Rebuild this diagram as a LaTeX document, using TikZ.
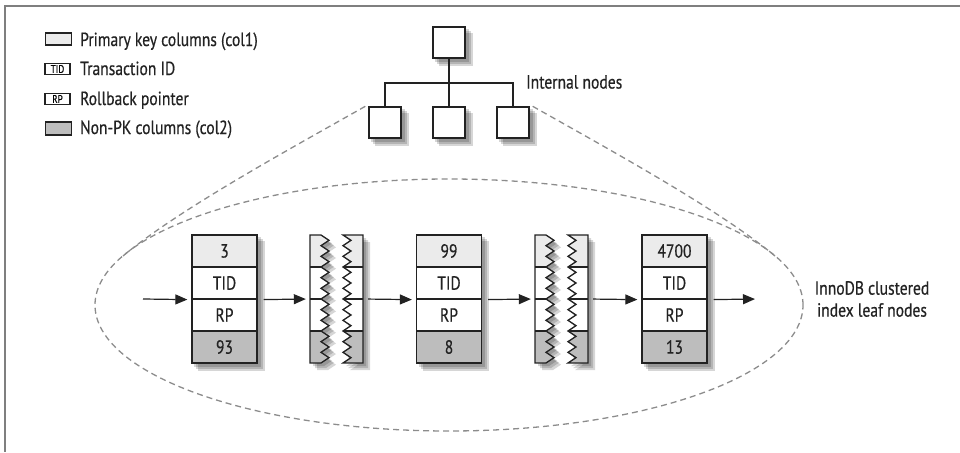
\documentclass[tikz,border=0pt]{standalone}
\usepackage{fontspec}
\setmainfont{PT Sans}[FakeStretch=0.82, FakeBold=0.5]
\usetikzlibrary{arrows.meta,calc}
\pgfdeclarelayer{background}
\pgfsetlayers{background,main}
\definecolor{pk}{HTML}{EBEBEB}
\definecolor{npk}{HTML}{BDBDBD}
\definecolor{framecol}{HTML}{7F7F7F}
\definecolor{dashcol}{HTML}{8C8C8C}
\definecolor{ink}{HTML}{222222}
\tikzset{
  txt/.style={font=\fontsize{19}{22}\selectfont, text=ink},
  cell/.style={draw=ink, line width=1.3pt, minimum width=65pt, minimum height=32pt, inner sep=0pt, txt},
  pkcell/.style={cell, fill=pk},
  npkcell/.style={cell, fill=npk},
  plaincell/.style={cell, fill=white},
  treebox/.style={draw=ink, line width=1.4pt, fill=white, minimum width=32pt, minimum height=31pt, inner sep=0pt},
  legbox/.style={draw=ink, line width=1.1pt, minimum width=26pt, minimum height=12pt, inner sep=0pt},
  smallbox/.style={draw=ink, line width=1.1pt, fill=white, minimum width=25pt, minimum height=11pt, inner sep=0pt, font=\fontsize{11}{11}\selectfont},
  legtext/.style={anchor=base west, inner sep=0pt, txt},
  arr/.style={-{Triangle[length=12pt,width=10pt]}, line width=1.2pt, draw=ink, shorten >=4pt},
  dashline/.style={draw=dashcol, line width=1.3pt, dash pattern=on 6pt off 4pt},
  shade/.style={fill=black, opacity=0.16},
  zigline/.style={draw=ink, line width=1.3pt, line join=miter}
}
\begin{document}
\begin{tikzpicture}[x=1pt, y=-1pt]
\useasboundingbox (0,0) rectangle (960,452);
% frame
\draw[framecol, line width=2pt] (960,6) -- (5,6) -- (5,452);

% legend
\node[legbox, fill=pk] (k1) at (58.5,39) {};
\node[smallbox] (k2) at (57.5,69) {TID};
\node[smallbox] (k3) at (57.5,99) {RP};
\node[legbox, fill=npk, minimum height=13pt] (k4) at (58.5,128.5) {};
\node[legtext] (l1) at (80,46) {Primary key columns (col1)};
\node[legtext] (l2) at (80,75) {Transaction ID};
\node[legtext] (l3) at (80,105) {Rollback pointer};
\node[legtext] (l4) at (80,134) {Non-PK columns (col2)};

% tree
\node[treebox] (root) at (449,42.5) {};
\node[treebox] (t1) at (385,122.5) {};
\node[treebox] (t2) at (449,122.5) {};
\node[treebox] (t3) at (513,122.5) {};
\coordinate (jn) at (449,83);
\draw[ink, line width=1.3pt] (root.south) -- (t2.north);
\draw[ink, line width=1.3pt] (t1.north) |- (jn) -| (t3.north);
\node[anchor=west, inner sep=0pt, txt] (inl) at (526,82) {Internal nodes};

% ellipse and funnel
\coordinate (fl) at (123,256);
\coordinate (fr) at (775,256);
\draw[dashline] (449,305) ellipse [x radius=354pt, y radius=126pt];
\draw[dashline] ([xshift=-3pt]t1.north west) .. controls (288,150) and (178,210) .. (fl);
\draw[dashline] ([xshift=3pt]t3.north east) .. controls (610,150) and (720,210) .. (fr);

% leaf nodes
\node[pkcell] (a1) at (224.5,251) {3};
\node[plaincell] (b1) at (224.5,283) {TID};
\node[plaincell] (c1) at (224.5,315) {RP};
\node[npkcell] (d1) at (224.5,347) {93};
\node[pkcell] (a2) at (449,251) {99};
\node[plaincell] (b2) at (449,283) {TID};
\node[plaincell] (c2) at (449,315) {RP};
\node[npkcell] (d2) at (449,347) {8};
\node[pkcell] (a3) at (674.5,251) {4700};
\node[plaincell] (b3) at (674.5,283) {TID};
\node[plaincell] (c3) at (674.5,315) {RP};
\node[npkcell] (d3) at (674.5,347) {13};

% shadows (background)
\begin{pgfonlayer}{background}
\foreach \d in {3,5,7}{
  \fill[shade] ([shift={(\d,\d)}]a1.north west) rectangle ([shift={(\d,\d)}]d1.south east);
  \fill[shade] ([shift={(\d,\d)}]a2.north west) rectangle ([shift={(\d,\d)}]d2.south east);
  \fill[shade] ([shift={(\d,\d)}]a3.north west) rectangle ([shift={(\d,\d)}]d3.south east);
  \fill[shade] ([shift={(\d,\d)}]root.north west) rectangle ([shift={(\d,\d)}]root.south east);
  \fill[shade] ([shift={(\d,\d)}]t1.north west) rectangle ([shift={(\d,\d)}]t1.south east);
  \fill[shade] ([shift={(\d,\d)}]t2.north west) rectangle ([shift={(\d,\d)}]t2.south east);
  \fill[shade] ([shift={(\d,\d)}]t3.north west) rectangle ([shift={(\d,\d)}]t3.south east);
}
\end{pgfonlayer}

% broken (zigzag) pieces
\node[draw=none, minimum width=53pt, minimum height=128pt, inner sep=0pt] (z1) at (336.5,299) {};
\node[draw=none, minimum width=53pt, minimum height=128pt, inner sep=0pt] (z2) at (561.5,299) {};
\foreach \X in {310,535}{
  \foreach \d in {3,5,7}{
    \fill[shade, shift={(\d,\d)}] (\X,235) -- (\X+11,235) \foreach \i in {1,...,24}{ -- ({\X+11+8*mod(\i,2)},{235+\i*16/3}) } -- (\X,363) -- cycle;
    \fill[shade, shift={(\d,\d)}] (\X+53,235) -- (\X+33,235) \foreach \i in {1,...,24}{ -- ({\X+33+8*mod(\i,2)},{235+\i*16/3}) } -- (\X+53,363) -- cycle;
  }
  \begin{scope}
    \clip (\X,235) -- (\X+11,235) \foreach \i in {1,...,24}{ -- ({\X+11+8*mod(\i,2)},{235+\i*16/3}) } -- (\X,363) -- cycle;
    \fill[pk] (\X,235) rectangle (\X+53,267);
    \fill[white] (\X,267) rectangle (\X+53,331);
    \fill[npk] (\X,331) rectangle (\X+53,363);
    \draw[ink, line width=1.3pt] (\X,267) -- (\X+53,267) (\X,299) -- (\X+53,299) (\X,331) -- (\X+53,331);
  \end{scope}
  \begin{scope}
    \clip (\X+53,235) -- (\X+33,235) \foreach \i in {1,...,24}{ -- ({\X+33+8*mod(\i,2)},{235+\i*16/3}) } -- (\X+53,363) -- cycle;
    \fill[pk] (\X,235) rectangle (\X+53,267);
    \fill[white] (\X,267) rectangle (\X+53,331);
    \fill[npk] (\X,331) rectangle (\X+53,363);
    \draw[ink, line width=1.3pt] (\X,267) -- (\X+53,267) (\X,299) -- (\X+53,299) (\X,331) -- (\X+53,331);
  \end{scope}
  \draw[zigline] (\X,235) -- (\X+11,235) \foreach \i in {1,...,24}{ -- ({\X+11+8*mod(\i,2)},{235+\i*16/3}) } -- (\X,363) -- cycle;
  \draw[zigline] (\X+53,235) -- (\X+33,235) \foreach \i in {1,...,24}{ -- ({\X+33+8*mod(\i,2)},{235+\i*16/3}) } -- (\X+53,363) -- cycle;
}

% arrows
\coordinate (in) at (143,299);
\coordinate (out) at (759,299);
\draw[arr] (in) -- (b1.south west);
\draw[arr, shorten <=6pt] (b1.south east) -- (z1.west);
\draw[arr, shorten <=5pt] (z1.east) -- (b2.south west);
\draw[arr, shorten <=6pt] (b2.south east) -- (z2.west);
\draw[arr, shorten <=5pt] (z2.east) -- (b3.south west);
\draw[arr, shorten <=6pt] (b3.south east) -- (out);

\node[align=center, inner sep=0pt, txt] (leafl) at (872,299) {InnoDB clustered\\index leaf nodes};
\end{tikzpicture}
\end{document}
